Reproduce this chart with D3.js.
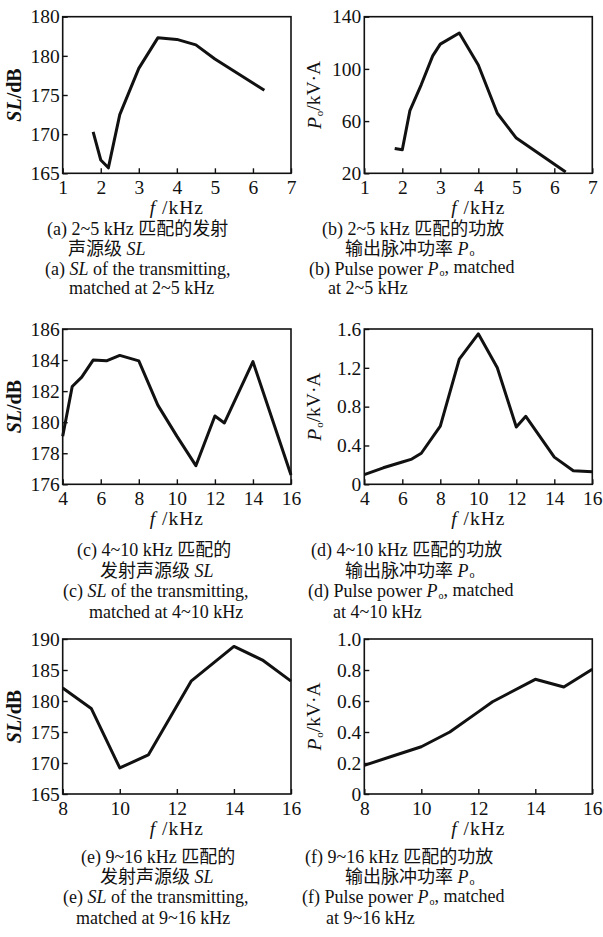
<!DOCTYPE html>
<html>
<head>
<meta charset="utf-8">
<script src="https://cdn.jsdelivr.net/npm/d3@7"></script>
<style>
  body { margin: 0; background: #fff; }
  text { font-family: "Liberation Serif", "Noto Sans CJK SC", serif; fill: #111; }
</style>
</head>
<body>
<script>
'use-strict';

// (a) SL, matched at 2~5 kHz
let freqA = [1.8, 2.0, 2.2, 2.5, 3.0, 3.5, 4.0, 4.5, 5.0, 6.3];
let slA = [170.3, 166.7, 165.7, 172.5, 178.4, 182.3, 182.1, 181.4, 179.6, 175.6];

// (b) pulse power, matched at 2~5 kHz
let freqB = [1.8, 2.0, 2.2, 2.5, 2.8, 3.0, 3.5, 4.0, 4.5, 5.0, 6.3];
let poB = [39, 38, 68, 88, 110, 119, 127.5, 103, 66, 47, 21];

// (c) SL, matched at 4~10 kHz
let freqC = [4, 4.5, 5, 5.6, 6.3, 7, 8, 9, 10, 11, 12, 12.5, 14, 16];
let slC = [179.1, 182.3, 182.9, 184.0, 183.95, 184.3, 183.95, 181.1, 179.1, 177.2, 180.4, 179.95, 183.9, 176.6];

// (d) pulse power, matched at 4~10 kHz
let freqD = [4, 5, 6, 6.5, 7, 8, 9, 10, 11, 12, 12.5, 14, 15, 16];
let poD = [0.1, 0.17, 0.23, 0.26, 0.32, 0.6, 1.29, 1.55, 1.2, 0.59, 0.7, 0.28, 0.14, 0.13];

// (e) SL, matched at 9~16 kHz
let freqE = [8, 9, 10, 11, 12.5, 14, 15, 16];
let slE = [182.1, 178.8, 169.2, 171.3, 183.2, 188.8, 186.6, 183.2];

// (f) pulse power, matched at 9~16 kHz
let freqF = [8, 9, 10, 11, 12, 12.5, 14, 15, 16];
let poF = [0.185, 0.245, 0.305, 0.4, 0.53, 0.595, 0.74, 0.69, 0.805];

// ticks
let xTicks1 = [1, 2, 3, 4, 5, 6, 7];
let xTicks2 = [4, 6, 8, 10, 12, 14, 16];
let xTicks3 = [8, 10, 12, 14, 16];
let yTicksA = [165, 170, 175, 180, 185];
let yLabelsA = ["165", "170", "175", "180", "180"]; // top label printed as 180 in the original
let yTicksB = [20, 60, 100, 140];
let yTicksC = [176, 178, 180, 182, 184, 186];
let yTicksD = [0, 0.4, 0.8, 1.2, 1.6];
let yLabelsD = ["0", "0.4", "0.8", "1.2", "1.6"];
let yTicksE = [165, 170, 175, 180, 185, 190];
let yTicksF = [0, 0.2, 0.4, 0.6, 0.8, 1.0];
let yLabelsF = ["0", "0.2", "0.4", "0.6", "0.8", "1.0"];

// axis titles (*..* italic, _.._ subscript)
let xTitle = "*f* /kHz";
let slTitle = "*SL*/dB";
let poTitle = "*P*_o_/kV·A";

// captions
let captionA = ["(a) 2~5 kHz 匹配的发射", "声源级 *SL*", "(a) *SL* of the transmitting,", "matched at 2~5 kHz"];
let captionB = ["(b) 2~5 kHz 匹配的功放", "输出脉冲功率 *P*_o_", "(b) Pulse power *P*_o_, matched", "at 2~5 kHz"];
let captionC = ["(c) 4~10 kHz 匹配的", "发射声源级 *SL*", "(c) *SL* of the transmitting,", "matched at 4~10 kHz"];
let captionD = ["(d) 4~10 kHz 匹配的功放", "输出脉冲功率 *P*_o_", "(d) Pulse power *P*_o_, matched", "at 4~10 kHz"];
let captionE = ["(e) 9~16 kHz 匹配的", "发射声源级 *SL*", "(e) *SL* of the transmitting,", "matched at 9~16 kHz"];
let captionF = ["(f) 9~16 kHz 匹配的功放", "输出脉冲功率 *P*_o_", "(f) Pulse power *P*_o_, matched", "at 9~16 kHz"];

// layout
let cols = [{ x0: 62.7, x1: 291, titleX: 15 }, { x0: 364.3, x1: 592.3, titleX: 315 }];
let rows = [
  { y0: 16.7, y1: 173.3, capY: 229, capStep: 19.8 },
  { y0: 329, y1: 484.3, capY: 550, capStep: 20.6 },
  { y0: 639, y1: 794, capY: 857, capStep: 20.2 }
];
// left start of each caption line
let capX = {
  a: [47, 68, 45, 69], b: [322, 345, 309, 328],
  c: [77, 100, 63, 89], d: [311, 345, 308, 333],
  e: [81, 100, 63, 76], f: [305, 345, 302, 326]
};

let svg = d3.select("body").append("svg")
  .attr("width", 603)
  .attr("height", 937);

let panels = [
  { id: "a", col: 0, row: 0, xs: freqA, ys: slA, xDom: [1, 7], yDom: [165, 185], xTicks: xTicks1, yTicks: yTicksA, yLabels: yLabelsA, yTitle: slTitle, bold: true, caption: captionA },
  { id: "b", col: 1, row: 0, xs: freqB, ys: poB, xDom: [1, 7], yDom: [20, 140], xTicks: xTicks1, yTicks: yTicksB, yTitle: poTitle, caption: captionB },
  { id: "c", col: 0, row: 1, xs: freqC, ys: slC, xDom: [4, 16], yDom: [176, 186], xTicks: xTicks2, yTicks: yTicksC, yTitle: slTitle, bold: true, caption: captionC },
  { id: "d", col: 1, row: 1, xs: freqD, ys: poD, xDom: [4, 16], yDom: [0, 1.6], xTicks: xTicks2, yTicks: yTicksD, yLabels: yLabelsD, yTitle: poTitle, caption: captionD },
  { id: "e", col: 0, row: 2, xs: freqE, ys: slE, xDom: [8, 16], yDom: [165, 190], xTicks: xTicks3, yTicks: yTicksE, yTitle: slTitle, bold: true, caption: captionE },
  { id: "f", col: 1, row: 2, xs: freqF, ys: poF, xDom: [8, 16], yDom: [0, 1.0], xTicks: xTicks3, yTicks: yTicksF, yLabels: yLabelsF, yTitle: poTitle, caption: captionF }
];

panels.forEach(drawPanel);

// writes a string with *italic* and _subscript_ parts as tspans
function richText(sel, str) {
  let parts = str.split(/(\*[^*]+\*|_[^_]+_)/).filter(s => s.length > 0);
  let shifted = false;
  parts.forEach(p => {
    let t = sel.append("tspan");
    if (shifted) { t.attr("dy", "-0.16em"); shifted = false; }
    if (p[0] === "*") {
      t.style("font-style", "italic").text(p.slice(1, -1));
    } else if (p[0] === "_") {
      t.attr("dy", "0.16em").attr("dx", "1").style("font-size", "0.56em").text(p.slice(1, -1));
      shifted = true;
    } else {
      t.text(p);
    }
  });
}

function drawPanel(p) {
  let c = cols[p.col], r = rows[p.row];

  let x = d3.scaleLinear().domain(p.xDom).range([c.x0, c.x1]);
  let y = d3.scaleLinear().domain(p.yDom).range([r.y1, r.y0]);

  // x axis, ticks pointing inward
  let xAxis = d3.axisBottom(x)
    .tickValues(p.xTicks)
    .tickFormat(d3.format("d"))
    .tickSizeInner(-5)
    .tickSizeOuter(0)
    .tickPadding(8);
  let gx = svg.append("g")
    .attr("transform", "translate(0," + r.y1 + ")")
    .call(xAxis);

  // y axis
  let yAxis = d3.axisLeft(y)
    .tickValues(p.yTicks)
    .tickSizeInner(-5)
    .tickSizeOuter(0)
    .tickPadding(3);
  if (p.yLabels) {
    yAxis.tickFormat((d, i) => p.yLabels[i]);
  } else {
    yAxis.tickFormat(d3.format("d"));
  }
  let gy = svg.append("g")
    .attr("transform", "translate(" + c.x0 + ",0)")
    .call(yAxis);

  [gx, gy].forEach(g => {
    g.attr("font-family", null).attr("font-size", null);
    g.select(".domain").remove();
    g.selectAll(".tick line").attr("stroke", "#111").attr("stroke-width", 1.4);
    g.selectAll(".tick text").style("font-size", "19.5px").attr("fill", "#111");
  });
  gx.selectAll(".tick text").attr("dy", "0.66em");

  // frame
  svg.append("rect")
    .attr("x", c.x0)
    .attr("y", r.y0)
    .attr("width", c.x1 - c.x0)
    .attr("height", r.y1 - r.y0)
    .attr("fill", "none")
    .attr("stroke", "#111")
    .attr("stroke-width", 1.6);

  // data line
  let pts = p.xs.map((v, i) => [v, p.ys[i]]);
  let line = d3.line()
    .x(d => x(d[0]))
    .y(d => y(d[1]));
  svg.append("path")
    .datum(pts)
    .attr("d", line)
    .attr("fill", "none")
    .attr("stroke", "#111")
    .attr("stroke-width", 3)
    .attr("stroke-linejoin", "round");

  // x title
  let tx = svg.append("text")
    .attr("x", (c.x0 + c.x1) / 2)
    .attr("y", r.y1 + 41)
    .attr("text-anchor", "middle")
    .style("font-size", "19.5px")
    .style("letter-spacing", "1px");
  richText(tx, xTitle);

  // y title
  let ty = svg.append("text")
    .attr("transform", "translate(" + (c.titleX + 6) + "," + ((r.y0 + r.y1) / 2) + ") rotate(-90)")
    .attr("text-anchor", "middle")
    .style("font-size", p.bold ? "20px" : "19.5px")
    .style("font-weight", p.bold ? "bold" : "normal");
  richText(ty, p.yTitle);

  // caption
  p.caption.forEach((line, i) => {
    let t = svg.append("text")
      .attr("x", capX[p.id][i])
      .attr("y", r.capY + i * r.capStep + 6)
      .style("font-size", "18px");
    richText(t, line);
  });
}
</script>
</body>
</html>
